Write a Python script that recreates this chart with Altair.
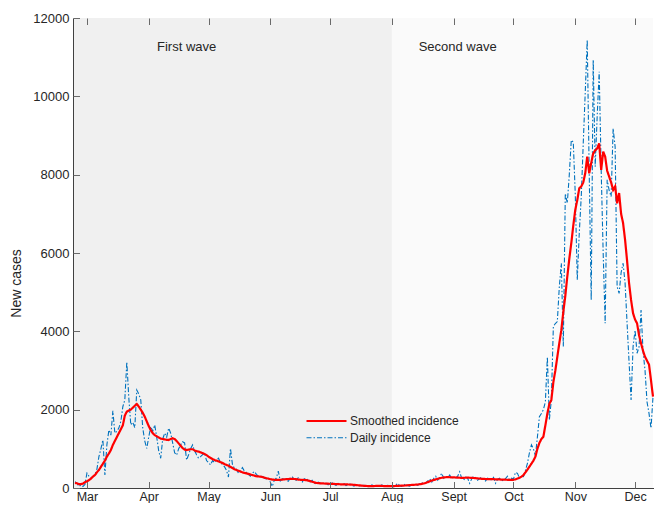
import altair as alt
import pandas as pd

# ---------------- data ----------------
start_date = "2020-02-24"

daily_feb = [160, 120, 40, 80, 40, 90]
daily_mar = [380, 300, 260, 290, 330, 480, 800, 1000, 1225, 330,
             1100, 1480, 1350, 1970, 1400, 1450, 1530, 1700, 2075, 2250,
             3225, 2300, 1610, 1680, 1540, 2500, 2400, 2250, 1530, 1200,
             1010]
daily_apr = [1300, 1565, 1450, 1610, 1300, 950, 760, 1250, 1400, 1300,
             1530, 1400, 1150, 900, 840, 1000, 1100, 1180, 1150, 715,
             850, 1000, 1100, 950, 850, 760, 800, 850, 885, 700]
daily_may = [650, 590, 700, 650, 720, 760, 650, 600, 545, 450,
             280, 1010, 600, 500, 480, 380, 450, 520, 430, 400,
             350, 300, 380, 420, 350, 300, 280, 320, 250, 230,
             260]
daily_jun = [150, 40, 200, 250, 430, 180, 230, 260, 200, 170,
             250, 280, 230, 200, 260, 220, 150, 230, 250, 190,
             160, 200, 130, 100, 150, 130, 90, 140, 120, 80]
daily_jul = [110, 130, 90, 70, 120, 100, 80, 110, 60, 90,
             100, 70, 50, 90, 80, 40, 60, 70, 50, 30,
             60, 80, 40, 70, 60, 50, 80, 40, 60, 70,
             50]
daily_aug = [60, 30, 80, 120, 50, 40, 70, 110, 60, 50,
             90, 80, 100, 70, 110, 140, 100, 130, 180, 230,
             150, 250, 300, 200, 280, 375, 250, 300, 260, 330,
             240]
daily_sep = [280, 260, 300, 415, 250, 200, 280, 250, 120, 230,
             300, 260, 200, 240, 280, 220, 180, 250, 230, 200,
             270, 120, 220, 250, 200, 180, 240, 300, 210, 250]
daily_oct = [230, 400, 375, 250, 300, 290, 450, 630, 900, 1100,
             1000, 820, 1300, 1820, 1900, 2000, 2200, 3350, 1735, 2250,
             4120, 4200, 4250, 5140, 5740, 3610, 7520, 7270, 8000, 8885,
             8830]
daily_nov = [7500, 5310, 6500, 7440, 8800, 10100, 11440, 8035, 4800, 10930,
             8205, 9500, 10630, 8120, 6000, 4205, 7870, 7600, 7440, 9180,
             8710, 5140, 4970, 5500, 5740, 5225, 4200, 3200, 2245, 3610]
daily_dec = [4030, 3440, 3600, 4545, 3500, 3000, 2200, 1905, 1525, 2330]

smooth_feb = [130, 120, 100, 100, 110, 150]
smooth_mar = [170, 200, 240, 290, 330, 400, 460, 540, 620, 700,
              800, 880, 970, 1100, 1200, 1300, 1400, 1500, 1600, 1850,
              1950, 1980, 2000, 2050, 2100, 2145, 2080, 2000, 1920, 1820,
              1700]
smooth_apr = [1580, 1480, 1400, 1350, 1320, 1290, 1260, 1250, 1240, 1230,
              1225, 1250, 1270, 1250, 1200, 1140, 1080, 1020, 980, 970,
              980, 990, 990, 960, 940, 930, 910, 890, 870, 840]
smooth_may = [800, 770, 740, 715, 700, 680, 660, 640, 610, 590,
              570, 540, 510, 480, 460, 440, 420, 400, 385, 375,
              360, 345, 330, 315, 300, 295, 290, 280, 265, 250,
              240]
smooth_jun = [225, 215, 210, 205, 205, 210, 215, 220, 225, 230,
              232, 235, 230, 225, 215, 210, 205, 205, 200, 190,
              175, 160, 145, 130, 125, 120, 118, 115, 112, 110]
smooth_jul = [108, 105, 103, 100, 98, 95, 95, 93, 92, 90,
              88, 85, 80, 75, 70, 65, 60, 55, 52, 50,
              50, 50, 50, 52, 55, 55, 52, 50, 50, 50,
              50]
smooth_aug = [50, 50, 52, 55, 58, 60, 62, 65, 70, 75,
              78, 80, 85, 90, 95, 105, 115, 130, 150, 170,
              190, 205, 220, 235, 250, 262, 270, 275, 278, 275,
              272]
smooth_sep = [270, 268, 265, 262, 260, 260, 262, 265, 262, 258,
              255, 250, 245, 240, 235, 232, 230, 228, 228, 225,
              225, 222, 220, 218, 215, 215, 212, 210, 210, 210]
smooth_oct = [210, 220, 240, 260, 290, 330, 400, 470, 545, 620,
              700, 800, 1000, 1150, 1250, 1310, 1600, 1900, 2150, 2245,
              2700, 3000, 3350, 3700, 4030, 4500, 4900, 5400, 5850, 6250,
              6700]
smooth_nov = [7100, 7350, 7650, 7700, 7800, 8035, 8460, 8035, 8300, 8545,
              8620, 8670, 8800, 8120, 8590, 8460, 8100, 7950, 7800, 7610,
              7700, 7270, 7530, 7000, 6760, 6330, 5800, 5225, 4800, 4460]
smooth_dec = [4300, 4205, 3900, 3695, 3500, 3350, 3250, 3150, 2750, 2330]

series_names = ["Smoothed incidence", "Daily incidence"]
wave_names = ["First wave", "Second wave"]
wave_starts = ["2020-02-23T00:00:00", "2020-08-01T00:00:00"]
wave_ends = ["2020-08-01T00:00:00", "2020-12-10T00:00:00"]
y_ticks = [0, 2000, 4000, 6000, 8000, 10000, 12000]
tick_months = [3, 4, 5, 6, 7, 8, 9, 10, 11, 12]

# ---------------- tables ----------------
daily = (daily_feb + daily_mar + daily_apr + daily_may + daily_jun + daily_jul
         + daily_aug + daily_sep + daily_oct + daily_nov + daily_dec)
smoothed = (smooth_feb + smooth_mar + smooth_apr + smooth_may + smooth_jun + smooth_jul
            + smooth_aug + smooth_sep + smooth_oct + smooth_nov + smooth_dec)
dates = pd.date_range(start_date, periods=len(daily), freq="D").strftime("%Y-%m-%dT00:00:00")
wide = pd.DataFrame({"date": dates, "Daily incidence": daily, "Smoothed incidence": smoothed})
long = wide.melt(id_vars="date", var_name="series", value_name="cases")
waves = pd.DataFrame({"wave": wave_names, "start": wave_starts, "end": wave_ends})
wave_labels = pd.DataFrame({"wave": wave_names,
                            "date": ["2020-04-20T00:00:00", "2020-09-03T00:00:00"],
                            "cases": [11260, 11260]})

# ---------------- styling ----------------
FONT = "Arial"
TXT = "#262626"
AX = "#404040"
TICK = "#6a6a6a"
TL = 6.5
W, H = 581, 470

x_scale = alt.Scale(domain=[alt.DateTime(year=2020, month=2, date=23),
                            alt.DateTime(year=2020, month=12, date=10, hours=12)], nice=False)
y_scale = alt.Scale(domain=[0, 12000], nice=False)
tick_vals = [alt.DateTime(year=2020, month=m, date=1) for m in tick_months]
month_expr = "timeFormat(datum.value, '%b') == 'Sep' ? 'Sept' : timeFormat(datum.value, '%b')"

x_main = alt.Axis(orient="bottom", values=tick_vals, ticks=False, tickSize=0, grid=False,
                  labelExpr=month_expr, labelFont=FONT, labelFontSize=12.5, labelColor=TXT,
                  labelPadding=2, domainColor=AX, domainWidth=1, title=None, zindex=1)
x_ticks_bottom = alt.Axis(orient="bottom", values=tick_vals, offset=-TL, tickSize=TL,
                          tickColor=TICK, tickWidth=1, labels=False, domain=False,
                          grid=False, title=None, zindex=1)
x_ticks_top = alt.Axis(orient="top", values=tick_vals, offset=-TL, tickSize=TL,
                       tickColor=TICK, tickWidth=1, labels=False, domain=False,
                       grid=False, title=None, zindex=1)
y_main = alt.Axis(orient="left", values=y_ticks, ticks=False, tickSize=0, grid=False,
                  format="d", labelFont=FONT, labelFontSize=13, labelColor=TXT,
                  labelPadding=4, domainColor=AX, domainWidth=1,
                  title="New cases", titleFont=FONT, titleFontSize=14,
                  titleFontWeight="normal", titleColor=TXT, titlePadding=9,
                  titleY=265, zindex=1)
y_ticks_ax = alt.Axis(orient="left", values=y_ticks, offset=-TL, tickSize=TL,
                      tickColor=TICK, tickWidth=1, labels=False, domain=False,
                      grid=False, title=None, zindex=1)

legend = alt.Legend(title=None, orient="none", legendX=232, legendY=396.5,
                    symbolType="stroke", symbolSize=1600, clipHeight=13,
                    rowPadding=3.7, labelOffset=2, padding=0,
                    labelFont=FONT, labelFontSize=12, labelColor=TXT)
color_scale = alt.Scale(domain=series_names, range=["#ff0000", "#0072bd"])
dash_scale = alt.Scale(domain=series_names, range=[[1, 0], [5, 2, 1.5, 2]])
width_scale = alt.Scale(domain=series_names, range=[2.2, 1.1])

shade = alt.Chart(waves).mark_rect().encode(
    x=alt.X("start:T", scale=x_scale, axis=x_main),
    x2="end:T",
    y=alt.YDatum(datum=0, type="quantitative", scale=y_scale, axis=None),
    y2=alt.Y2Datum(datum=12000),
    fill=alt.Fill("wave:N", scale=alt.Scale(domain=wave_names, range=["#f0f0f0", "#fafafa"]),
                  legend=None),
)


def line_layer(name, xaxis, yaxis):
    return alt.Chart(long).transform_filter(alt.datum.series == name).mark_line().encode(
        x=alt.X("date:T", scale=x_scale, axis=xaxis),
        y=alt.Y("cases:Q", scale=y_scale, axis=yaxis),
        color=alt.Color("series:N", scale=color_scale, legend=legend),
        strokeDash=alt.StrokeDash("series:N", scale=dash_scale, legend=legend),
        strokeWidth=alt.StrokeWidth("series:N", scale=width_scale, legend=legend),
    )


daily_layer = line_layer("Daily incidence", x_ticks_bottom, y_main)
smooth_layer = line_layer("Smoothed incidence", x_ticks_top, y_ticks_ax)

text = alt.Chart(wave_labels).mark_text(font=FONT, fontSize=13, color=TXT,
                                        align="center", baseline="middle").encode(
    x=alt.X("date:T", scale=x_scale, axis=None),
    y=alt.Y("cases:Q", scale=y_scale, axis=None),
    text="wave:N",
)

chart = alt.layer(shade, daily_layer, smooth_layer, text).resolve_axis(
    x="independent", y="independent"
).properties(
    width=W, height=H,
    autosize=alt.AutoSizeParams(type="none"),
    padding={"left": 65, "top": 10, "right": 0, "bottom": 15},
    background="white",
).configure_view(stroke=None)

chart.save("out.html", embed_options={"renderer": "svg", "actions": False})
